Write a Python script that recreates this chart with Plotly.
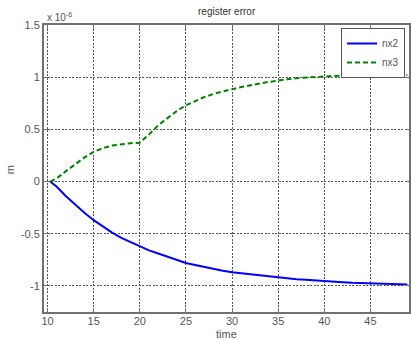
import plotly.graph_objects as go

time = [10.3, 11, 12, 13, 14, 15, 16, 17, 18, 19, 20, 21, 22, 23, 24, 25, 26, 27, 28, 29,
        30, 31, 32, 33, 34, 35, 36, 37, 38, 39, 40, 41, 42, 43, 44, 45, 46, 47, 48, 49]

nx2 = [0, -0.05, -0.14, -0.22, -0.30, -0.37, -0.43, -0.49, -0.54, -0.58, -0.62, -0.66,
       -0.69, -0.72, -0.755, -0.78, -0.80, -0.82, -0.84, -0.855, -0.87, -0.88, -0.89,
       -0.90, -0.91, -0.92, -0.93, -0.935, -0.94, -0.948, -0.955, -0.96, -0.965, -0.97,
       -0.973, -0.976, -0.979, -0.982, -0.984, -0.986]

nx3 = [0, 0.03, 0.10, 0.165, 0.23, 0.285, 0.32, 0.345, 0.36, 0.368, 0.372, 0.45, 0.54,
       0.61, 0.675, 0.73, 0.77, 0.81, 0.84, 0.865, 0.885, 0.905, 0.925, 0.94, 0.955,
       0.97, 0.98, 0.99, 0.997, 1.003, 1.008, 1.012, 1.015, 1.017, 1.018, 1.019, 1.02,
       1.02, 1.02, 1.02]

x_ticks = [10, 15, 20, 25, 30, 35, 40, 45]
y_ticks = [-1, -0.5, 0, 0.5, 1, 1.5]
y_tick_labels = ["-1", "-0.5", "0", "0.5", "1", "1.5"]

FONT = "Liberation Sans, Arial, sans-serif"

W, H = 411, 340
L, R, T, B = 44, 0, 25, 28
pw, ph = W - L - R, H - T - B


def px_x(p):
    return (p - L) / pw


def px_y(p):
    return (H - B - p) / ph


fig = go.Figure()
fig.add_trace(go.Scatter(x=time, y=nx2, mode="lines", name="nx2",
                         line=dict(color="#0000ff", width=2)))
fig.add_trace(go.Scatter(x=time, y=nx3, mode="lines", name="nx3",
                         line=dict(color="#008000", width=2, dash="5px,3px")))

axis_common = dict(
    showgrid=True, gridcolor="#555555", griddash="2px,1.5px", gridwidth=1,
    showline=True, linecolor="#707070", linewidth=2, mirror="ticks",
    ticks="inside", ticklen=4, tickcolor="#707070",
    tickfont=dict(family=FONT, size=11, color="#555555"),
    zeroline=False,
)

fig.update_layout(
    width=W, height=H,
    margin=dict(l=L, r=R, t=T, b=B),
    paper_bgcolor="white", plot_bgcolor="white",
    showlegend=True,
    legend=dict(x=px_x(407), y=px_y(28), xanchor="right", yanchor="top",
                bgcolor="white", bordercolor="#555555", borderwidth=1,
                font=dict(family=FONT, size=10, color="#555555"),
                itemwidth=30, tracegroupgap=0),
    xaxis=dict(range=[9.62, 49.18], tickvals=x_ticks, ticklabelstandoff=-2,
               **axis_common),
    yaxis=dict(range=[-1.25, 1.5], tickvals=y_ticks, ticktext=y_tick_labels,
               **axis_common),
    annotations=[
        dict(text="register error", x=0.5, y=px_y(12), xref="paper", yref="paper",
             showarrow=False, yanchor="middle",
             font=dict(family=FONT, size=10, color="#333333")),
        dict(text="x 10<sup>-6</sup>", x=px_x(45), y=px_y(17), xref="paper", yref="paper",
             showarrow=False, xanchor="left", yanchor="middle",
             font=dict(family=FONT, size=10, color="#555555")),
        dict(text="time", x=0.5, y=px_y(334), xref="paper", yref="paper",
             showarrow=False, yanchor="middle",
             font=dict(family=FONT, size=11, color="#555555")),
        dict(text="m", x=px_x(10), y=px_y(170), xref="paper", yref="paper",
             textangle=-90, showarrow=False, xanchor="center", yanchor="middle",
             font=dict(family=FONT, size=11, color="#555555")),
    ],
)

fig.write_html("out.html", config={"displayModeBar": False},
               post_script="document.body.style.margin='0';")
